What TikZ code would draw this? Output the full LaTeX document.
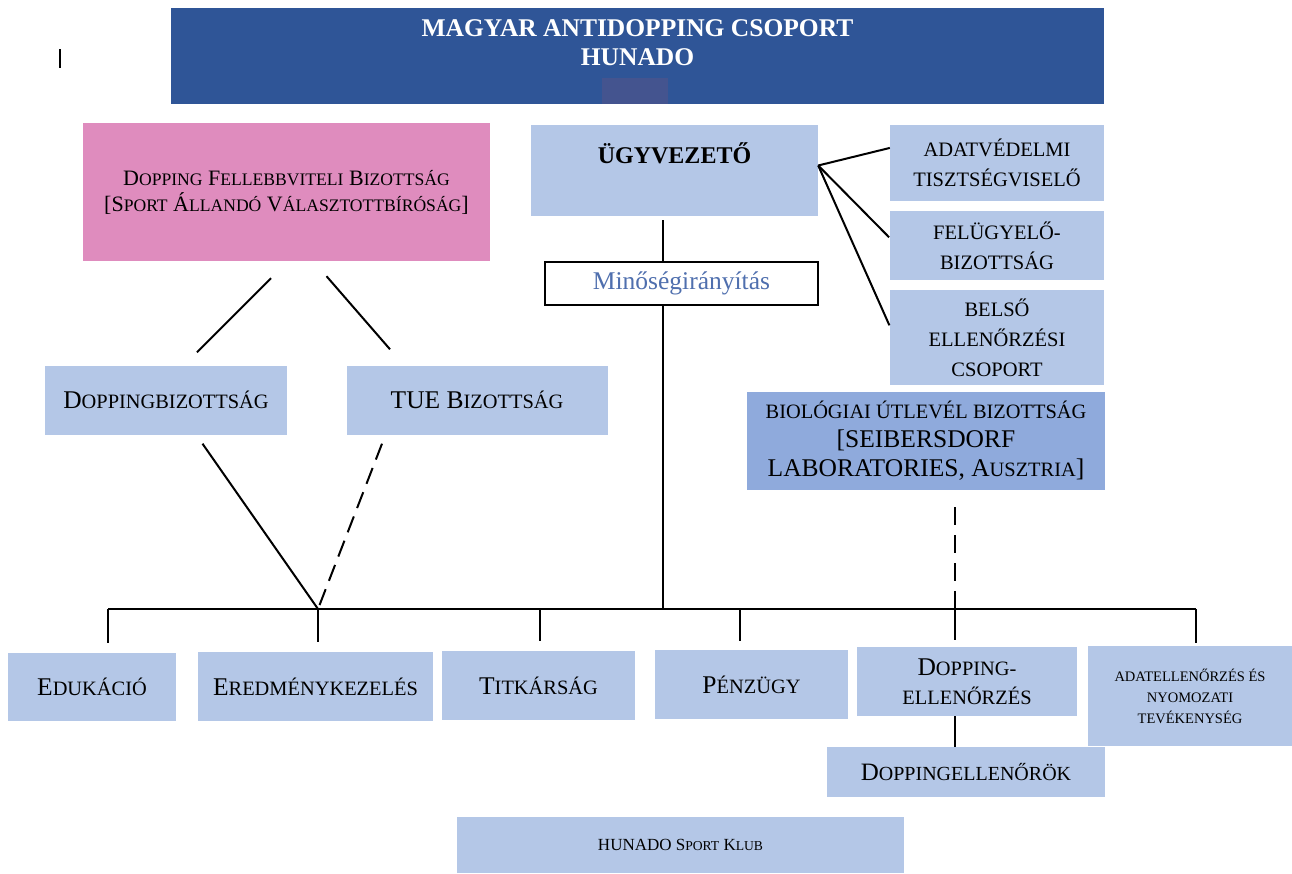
\documentclass[tikz,border=0pt]{standalone}
\usepackage{fontspec}
\setmainfont{Liberation Serif}
\usetikzlibrary{positioning}
\definecolor{cimkek}{HTML}{2F5597}
\definecolor{folt}{HTML}{44548F}
\definecolor{halvany}{HTML}{B4C7E7}
\definecolor{rozsa}{HTML}{DF8CBE}
\definecolor{biokek}{HTML}{8FAADC}
\definecolor{minoseg}{HTML}{4F6FAE}
\newcommand{\kk}[1]{\scalebox{0.8}{#1}}
\newcommand{\bet}[2]{\fontsize{#1}{#2}\selectfont}
\tikzset{
  doboz/.style={fill=halvany, inner sep=0pt, align=center},
  meret/.style 2 args={minimum width=#1, minimum height=#2},
  vonal/.style={line width=2pt},
  szaggatott/.style={line width=2pt, dash pattern=on 17pt off 9pt},
}
\begin{document}
\begin{tikzpicture}[x=1pt, y=-1pt]
  \useasboundingbox (0,0) rectangle (1292,873);
  \draw[line width=1.2pt] (60,49) -- (60,68);
  % fejlec
  \node[fill=cimkek, meret={933}{96}] (cim) at (637.5,56) {};
  \node[fill=folt, meret={66}{26}] (folt) at (635,91) {};
  \node[text=white, font=\bfseries\bet{25.5}{29}, align=center] (cimszoveg) at ([yshift=13pt]cim.center) {MAGYAR ANTIDOPPING CSOPORT\\HUNADO};
  % felso sor
  \node[doboz, fill=rozsa, meret={407}{138}, font=\bet{22}{26}] (fellebb) at (286.5,192) {D\kk{OPPING} F\kk{ELLEBBVITELI} B\kk{IZOTTSÁG}\\{}[S\kk{PORT} Á\kk{LLANDÓ} V\kk{ÁLASZTOTTBÍRÓSÁG}]};
  \node[doboz, meret={287}{91}] (ugy) at (674.5,170.5) {};
  \node[font=\bfseries\bet{24}{28}] (ugyszoveg) at ([yshift=-28pt]ugy.north) {ÜGYVEZETŐ};
  \node[fill=white, draw=black, line width=1.2pt, meret={273}{43}, text=minoseg, font=\bet{25.5}{30}] (min) at (681.5,283.5) {Minőségirányítás};
  \node[doboz, meret={214}{76}, font=\bet{20.5}{30}] (adat) at (997,163) {ADATVÉDELMI\\TISZTSÉGVISELŐ};
  \node[doboz, meret={214}{69}, font=\bet{20.5}{30}] (felugy) at (997,245.5) {FELÜGYELŐ-\\BIZOTTSÁG};
  \node[doboz, meret={214}{95}, font=\bet{20.5}{30}] (belso) at (997,337.5) {BELSŐ\\ELLENŐRZÉSI\\CSOPORT};
  % bizottsagok
  \node[doboz, meret={242}{69}, font=\bet{25.5}{30}] (dopb) at (166,400) {D\kk{OPPINGBIZOTTSÁG}};
  \node[doboz, meret={261}{69}, font=\bet{25.5}{30}] (tue) at (477,400) {TUE B\kk{IZOTTSÁG}};
  \node[doboz, fill=biokek, meret={358}{98}, font=\bet{25.5}{29}] (bio) at (926,441) {\kk{BIOLÓGIAI ÚTLEVÉL BIZOTTSÁG}\\{}[SEIBERSDORF\\LABORATORIES, A\kk{USZTRIA}]};
  % also sor
  \node[doboz, meret={168}{68}, font=\bet{25.5}{30}] (edu) at (92,687) {E\kk{DUKÁCIÓ}};
  \node[doboz, meret={235}{69}, font=\bet{25.5}{30}] (ered) at (315.5,686.5) {E\kk{REDMÉNYKEZELÉS}};
  \node[doboz, meret={193}{69}, font=\bet{25.5}{30}] (titk) at (538.5,685.5) {T\kk{ITKÁRSÁG}};
  \node[doboz, meret={193}{69}, font=\bet{25.5}{30}] (penz) at (751.5,684.5) {P\kk{ÉNZÜGY}};
  \node[doboz, meret={220}{69}, font=\bet{25.5}{29}] (dell) at (967,681.5) {D\kk{OPPING-}\\\kk{ELLENŐRZÉS}};
  \node[doboz, meret={204}{100}, font=\bet{14.5}{21}] (adatell) at (1190,696) {ADATELLENŐRZÉS ÉS\\NYOMOZATI\\TEVÉKENYSÉG};
  \node[doboz, meret={278}{50}, font=\bet{25}{30}] (dellok) at (966,772) {D\kk{OPPINGELLENŐRÖK}};
  \node[doboz, meret={447}{56}, font=\bet{17}{20}] (klub) at (680.5,845) {HUNADO S\kk{PORT} K\kk{LUB}};
  % vonalak
  \coordinate (b1) at (108,609);
  \coordinate (b2) at (318,609);
  \coordinate (b3) at (540,609);
  \coordinate (b4) at (740,609);
  \coordinate (b5) at (955,609);
  \coordinate (b6) at (1196,609);
  \coordinate (tr) at (663,609);
  \draw[vonal] (b1) -- (b6);
  \draw[vonal, shorten <=4pt] (tr |- ugy.south) -- (tr |- min.north);
  \draw[vonal] (tr |- min.south) -- (tr);
  \draw[vonal] ([yshift=5pt]ugy.east) -- (adat.172);
  \draw[vonal, shorten >=1pt] ([yshift=5pt]ugy.east) -- (felugy.176);
  \draw[vonal, shorten >=1pt] ([yshift=5pt]ugy.east) -- (belso.174);
  \draw[vonal] ([xshift=-15.5pt,yshift=-17pt]fellebb.south) -- ([xshift=31pt,yshift=13pt]dopb.north);
  \draw[vonal] ([xshift=40pt,yshift=-15pt]fellebb.south) -- ([xshift=-87pt,yshift=16pt]tue.north);
  \draw[vonal] ([xshift=36.5pt,yshift=-9pt]dopb.south) -- (b2);
  \draw[szaggatott] ([xshift=-95pt,yshift=-9pt]tue.south) -- (b2);
  \draw[szaggatott, dash pattern=on 18pt off 10pt, shorten <=17pt] (b5 |- bio.south) -- (b5);
  \draw[vonal, shorten >=10pt] (b1) -- (b1 |- edu.north);
  \draw[vonal, shorten >=10pt] (b2) -- (b2 |- ered.north);
  \draw[vonal, shorten >=10pt] (b3) -- (b3 |- titk.north);
  \draw[vonal, shorten >=9pt] (b4) -- (b4 |- penz.north);
  \draw[vonal, shorten >=7pt] (b5) -- (b5 |- dell.north);
  \draw[vonal, shorten >=3pt] (b6) -- (b6 |- adatell.north);
  \draw[vonal] (b5 |- dell.south) -- (b5 |- dellok.north);
\end{tikzpicture}
\end{document}
